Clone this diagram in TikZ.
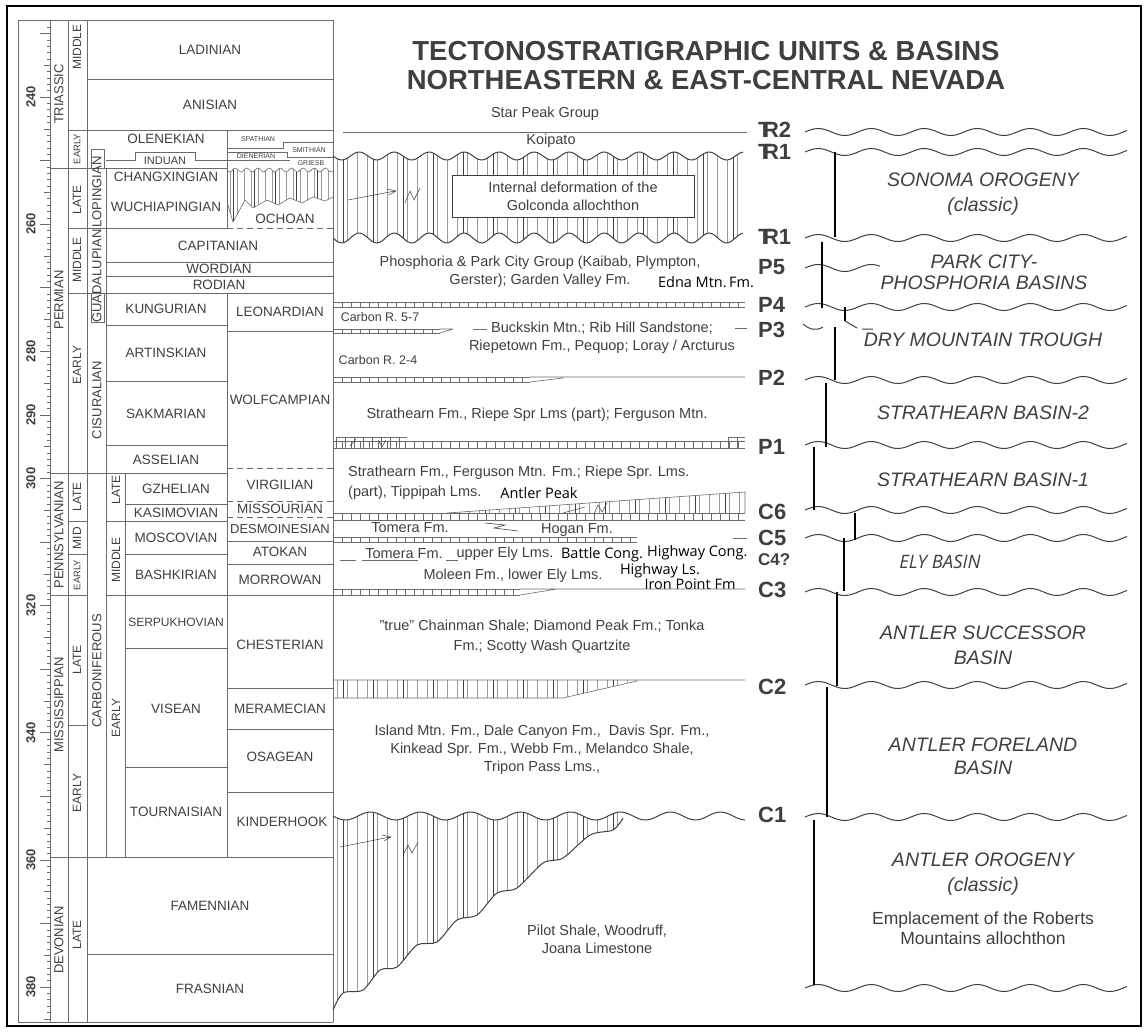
\documentclass[tikz,border=0pt]{standalone}
\usepackage{fontspec}
\setmainfont{Liberation Sans}
\newfontfamily\altfont{Open Sans}
\usetikzlibrary{calc}
\definecolor{ink}{HTML}{3F3F3F}
\definecolor{rule}{HTML}{6A6A6A}
\definecolor{hatchc}{HTML}{9A9A9A}
\newcommand{\fsz}[2]{\fontsize{#1}{#2}\selectfont}
\newcommand{\Tr}{T\kern-0.39em R}
\newcommand{\maY}[1]{97+(#1-240)*6.357}
% thin band with ticks: x1, x2, ytop, ybot
\newcommand{\tickband}[4]{%
  \draw[band] (#1,#3) -- (#2,#3) (#1,#4) -- (#2,#4);
  \pgfmathtruncatemacro\tbn{(#2-#1)/9}
  \foreach \i in {0,...,\tbn} \draw[band] ({#1+9*\i},#3) -- ({#1+9*\i},#4);
}
% wavy unconformity on the right: y, x1, x2
\newcommand{\rwave}[3]{\draw[wave] plot[domain=#2:#3, samples=110] (\x,{#1-3.5*sin((\x-805)*6.79)});}

\begin{document}
\begin{tikzpicture}[x=1pt, y=-1pt,
  stg/.style={text=ink, font=\fsz{13.5}{15}, inner sep=0pt},
  per/.style={text=ink, font=\fsz{13}{13}, rotate=90, inner sep=0pt},
  epo/.style={text=ink, font=\fsz{12}{12}, rotate=90, inner sep=0pt},
  rnum/.style={text=ink, font=\bfseries\fsz{13}{13}, rotate=90, inner sep=0pt},
  tiny/.style={text=ink, font=\fsz{7}{7}, inner sep=0pt},
  fm/.style={text=ink, font=\fsz{14.5}{18}, align=center, inner sep=0pt},
  fmalt/.style={text=black, font=\altfont\fsz{14.5}{16}, inner sep=0pt},
  unc/.style={text=ink, font=\bfseries\fsz{22}{22}, anchor=west, inner sep=0pt},
  basin/.style={text=ink, font=\itshape\fsz{19.5}{25}, align=center, inner sep=0pt},
  tline/.style={draw=rule, line width=0.8pt},
  tdash/.style={tline, dash pattern=on 6pt off 4pt},
  band/.style={draw=rule, line width=0.6pt},
  hatch/.style={draw=hatchc, line width=0.4pt},
  hatchd/.style={draw=ink, line width=0.7pt},
  wave/.style={draw=ink, line width=1pt},
  dur/.style={draw=black, line width=2.6pt}
]
\useasboundingbox (0,0) rectangle (1148,1031);
\draw[line width=2pt] (7,6) rectangle (1141,1026);

% time scale frame
\draw[tline] (18,20) -- (333,20) (18,1022) -- (333,1022);
\foreach \x in {18,50,68,87,333} \draw[tline] (\x,20) -- (\x,1022);
\draw[tline] (106,168) -- (106,857);
\draw[tline] (125,473) -- (125,857);
\draw[tline] (227,130) -- (227,228) (227,293) -- (227,857);

% ruler
\foreach \m in {228,...,385}{
  \pgfmathsetmacro\tl{mod(\m,10)==0 ? 10 : (mod(\m,5)==0 ? 6.5 : 3.5)}
  \draw[rule, line width=0.5pt] (50,{\maY{\m}}) -- ++(-\tl,0);
}
\foreach \m in {240,260,280,290,300,320,340,360,380}
  \node[rnum] (ma\m) at (31,{\maY{\m}}) {\m};

% triassic
\draw[tline] (87,79) -- (333,79) (68,130) -- (333,130) (50,168) -- (227,168);
\draw[tline] (106,160) -- (135,160) -- (135,152) -- (195,152) -- (195,160) -- (227,160);
\draw[tline] (91,168) -- (91,149) -- (104,149) -- (104,168);
\draw[band] (227,148) -- (283,148) -- (283,142) -- (333,142);
\draw[band] (227,152) -- (287,152) -- (287,157) -- (333,157);
\draw[band] (227,160) -- (290,160);
% permian
\draw[tline] (68,228) -- (227,228);
\draw[tdash] (227,228) -- (333,228);
\draw[tline] (106,262) -- (333,262) (106,276) -- (333,276) (68,293) -- (333,293);
\draw[tline] (91,293) -- (91,322) -- (104,322) -- (104,293);
\draw[tline] (106,325) -- (227,325) (227,331) -- (333,331);
\draw[tline] (106,381) -- (227,381) (106,445) -- (227,445) (50,473) -- (227,473);
\draw[tdash] (227,468) -- (333,468);
% carboniferous and devonian
\draw[tline] (125,504) -- (227,504);
\draw[tdash] (227,501) -- (333,501) (227,517) -- (333,517);
\draw[tline] (68,521) -- (87,521) (106,521) -- (227,521);
\draw[tline] (227,541) -- (333,541) (227,564) -- (333,564);
\draw[tline] (68,554) -- (87,554) (125,554) -- (227,554);
\draw[tline] (50,595) -- (87,595) (106,595) -- (333,595);
\draw[tline] (125,648) -- (227,648) (227,688) -- (333,688) (227,729) -- (333,729);
\draw[tline] (68,725) -- (87,725);
\draw[tline] (125,767) -- (227,767) (227,792) -- (333,792);
\draw[tline] (50,857) -- (333,857) (87,954) -- (333,954);

% ochoan gap
\begin{scope}
  \clip plot[domain=227:333, samples=60] (\x,{170+2*sin((\x-227)*32)}) -- (333,197) -- (325,201) -- (313,197) -- (302,203) -- (290,198) -- (278,205) -- (267,200) -- (253,208) -- (245,200) -- (238,213) -- (233,222) -- (228,205) -- cycle;
  \foreach \x in {230,237,...,333} \draw[hatch] (\x,160) -- (\x,230);
  \foreach \x in {233,254,...,333} \draw[hatchd] (\x,160) -- (\x,230);
\end{scope}
\draw[band] plot[domain=227:333, samples=60] (\x,{170+2*sin((\x-227)*32)});
\draw[band] (228,205) -- (233,222) -- (238,213) -- (245,200) -- (253,208) -- (267,200) -- (278,205) -- (290,198) -- (302,203) -- (313,197) -- (325,201) -- (333,197);

% stage names
\node[stg] (lad) at (210,50) {LADINIAN};
\node[stg] (ani) at (210,105) {ANISIAN};
\node[stg] (ole) at (166,139) {OLENEKIAN};
\node[stg, font=\fsz{11}{11}] (ind) at (165,161) {INDUAN};
\node[tiny] (spa) at (258,139) {SPATHIAN};
\node[tiny] (smi) at (309,150) {SMITHIAN};
\node[tiny] (die) at (256,156) {DIENERIAN};
\node[tiny] (gri) at (311,163) {GRIESB};
\node[stg] (chx) at (166,177) {CHANGXINGIAN};
\node[stg] (wuc) at (166,207) {WUCHIAPINGIAN};
\node[stg] (och) at (285,219) {OCHOAN};
\node[stg] (cap) at (218,246) {CAPITANIAN};
\node[stg] (wor) at (219,269) {WORDIAN};
\node[stg] (rod) at (219,285) {RODIAN};
\node[stg] (kun) at (166,309) {KUNGURIAN};
\node[stg] (leo) at (280,312) {LEONARDIAN};
\node[stg] (art) at (166,353) {ARTINSKIAN};
\node[stg] (wol) at (280,400) {WOLFCAMPIAN};
\node[stg] (sak) at (166,414) {SAKMARIAN};
\node[stg] (ass) at (166,460) {ASSELIAN};
\node[stg] (gzh) at (176,489) {GZHELIAN};
\node[stg] (vir) at (280,485) {VIRGILIAN};
\node[stg] (kas) at (176,513) {KASIMOVIAN};
\node[stg] (mis) at (280,509) {MISSOURIAN};
\node[stg, font=\fsz{13}{13}] (des) at (280,529) {DESMOINESIAN};
\node[stg] (mos) at (176,538) {MOSCOVIAN};
\node[stg] (ato) at (280,552) {ATOKAN};
\node[stg] (bas) at (176,575) {BASHKIRIAN};
\node[stg] (mor) at (280,580) {MORROWAN};
\node[stg, font=\fsz{12}{12}] (ser) at (176,622) {SERPUKHOVIAN};
\node[stg] (che) at (280,645) {CHESTERIAN};
\node[stg] (vis) at (176,709) {VISEAN};
\node[stg] (mer) at (280,709) {MERAMECIAN};
\node[stg] (osa) at (280,757) {OSAGEAN};
\node[stg] (tou) at (176,812) {TOURNAISIAN};
\node[stg] (kin) at (282,822) {KINDERHOOK};
\node[stg] (fam) at (210,906) {FAMENNIAN};
\node[stg] (fra) at (210,989) {FRASNIAN};

% periods, epochs, series
\node[per] (tri) at (59,94) {TRIASSIC};
\node[per] (prm) at (59,300) {PERMIAN};
\node[per] (pen) at (59,535) {PENNSYLVANIAN};
\node[per] (mss) at (59,705) {MISSISSIPPIAN};
\node[per] (dev) at (59,940) {DEVONIAN};
\node[epo] (trm) at (77,47) {MIDDLE};
\node[epo, font=\fsz{9.5}{9.5}] (tre) at (77,149) {EARLY};
\node[epo] (pml) at (77,200) {LATE};
\node[epo] (pmm) at (77,260) {MIDDLE};
\node[epo] (pme) at (77,365) {EARLY};
\node[epo] (pnl) at (77,497) {LATE};
\node[epo] (pnm) at (77,538) {MID};
\node[epo, font=\fsz{9.5}{9.5}] (pne) at (77,575) {EARLY};
\node[epo] (msl) at (77,660) {LATE};
\node[epo] (mse) at (77,793) {EARLY};
\node[epo] (dvl) at (77,935) {LATE};
\node[per] (lop) at (97,192) {LOPINGIAN};
\node[per] (gua) at (97,276) {GUADALUPIAN};
\node[per] (cis) at (97,400) {CISURALIAN};
\node[per] (crb) at (97,671) {CARBONIFEROUS};
\node[epo] (sbl) at (116,490) {LATE};
\node[epo] (sbm) at (116,560) {MIDDLE};
\node[epo] (sbe) at (116,718) {EARLY};

% title
\node[text=ink, font=\bfseries\fsz{27.5}{30}] (title1) at (706,51) {TECTONOSTRATIGRAPHIC UNITS \& BASINS};
\node[text=ink, font=\bfseries\fsz{27.5}{30}] (title2) at (706,80) {NORTHEASTERN \& EAST-CENTRAL NEVADA};

% triassic units
\node[fm] (starpk) at (545,114) {Star Peak Group};
\draw[band] (343,132) -- (747,132);
\node[fm] (koip) at (551,141) {Koipato};

% golconda deformation
\begin{scope}
  \clip plot[domain=333:743, samples=150] (\x,{156+4*sin((\x-333)*10.29)}) -- plot[domain=743:333, samples=150] (\x,{238+5*sin((\x-333)*10.29)}) -- cycle;
  \foreach \x in {337,347,...,743} \draw[hatch] (\x,140) -- (\x,250);
  \foreach \x in {343,373,...,743} \draw[hatchd] (\x,140) -- (\x,250);
\end{scope}
\draw[wave] plot[domain=333:743, samples=150] (\x,{156+4*sin((\x-333)*10.29)});
\draw[wave] plot[domain=333:743, samples=150] (\x,{238+5*sin((\x-333)*10.29)});
\draw[hatchd, line width=0.5pt] (348,200) -- (395,191) (387,189) -- (396,191) -- (389,195);
\draw[hatchd, line width=0.5pt] (405,203) -- (410,191) -- (414,200) -- (420,188);
\node[fm, draw=ink, line width=0.6pt, fill=white, minimum width=242pt, minimum height=42pt] (golc) at (573,196) {Internal deformation of the\\Golconda allochthon};

% permian units
\node[fm] (phos) at (540,272) {Phosphoria \& Park City Group (Kaibab, Plympton,\\Gerster); Garden Valley Fm.};
\node[fmalt] (edna) at (706,282) {Edna Mtn.\,Fm.};
\tickband{333}{745}{302}{307}
\node[fm, font=\fsz{12.5}{14}] (carb57) at (380,317) {Carbon R. 5-7};
\tickband{333}{440}{329}{333}
\draw[band] (440,333) -- (453,329) (440,329) -- (453,329);
\draw[band] (473,329) -- (487,329) (735,328) -- (747,328);
\node[fm] (buck) at (602,338) {Buckskin Mtn.; Rib Hill Sandstone;\\Riepetown Fm., Pequop; Loray / Arcturus};
\node[fm, font=\fsz{12.5}{14}] (carb24) at (378,360) {Carbon R. 2-4};
\tickband{333}{530}{377}{382}
\draw[band] (530,382) -- (563,378) (530,377) -- (745,377);
\node[fm] (str2) at (537,415) {Strathearn Fm., Riepe Spr Lms (part); Ferguson Mtn.};
\tickband{333}{745}{441}{448}
\tickband{336}{407}{437}{448}
\tickband{728}{745}{437}{448}
\draw[hatchd, line width=0.5pt] (350,446) -- (356,439) (378,440) -- (382,447) -- (386,440);

% carboniferous units
\node[fm, anchor=west, align=left, font=\fsz{14.5}{20}] (str1) at (348,483) {Strathearn Fm., Ferguson Mtn. Fm.; Riepe Spr. Lms.\\(part), Tippipah Lms.};
\node[fmalt] (apk) at (539,493) {Antler Peak};
\begin{scope}
  \clip (447,513) -- (745,492) -- (745,513) -- cycle;
  \foreach \x in {449,459,...,745} \draw[hatch] (\x,488) -- (\x,514);
  \foreach \x in {455,485,...,745} \draw[hatchd] (\x,488) -- (\x,514);
\end{scope}
\draw[band] (447,513) -- (745,492) -- (745,513);
\tickband{333}{745}{513}{520}
\draw[hatchd, line width=0.5pt] (563,513) -- (585,507) (594,514) -- (598,505) -- (602,512) -- (607,503);
\node[fm] (tom1) at (410,528) {Tomera Fm.};
\draw[hatchd, line width=0.6pt] (485,523) -- (505,525) -- (494,528) -- (518,531);
\node[fm] (hog) at (577,530) {Hogan Fm.};
\tickband{333}{637}{537}{542}
\draw[band] (733,538) -- (747,538);
\draw[band] (340,560) -- (356,560) (362,560) -- (418,560) (446,560) -- (458,560);
\node[fm] (tom2) at (404,554) {Tomera Fm.};
\node[fm] (uel) at (505,554) {upper Ely Lms.};
\node[fmalt] (btc) at (602,555) {Battle Cong.};
\node[fmalt, anchor=west] (hwc) at (647,553) {Highway Cong.};
\node[fm] (mol) at (513,576) {Moleen Fm., lower Ely Lms.};
\node[fmalt] (hwl) at (660,571) {Highway Ls.};
\node[fmalt] (ipf) at (690,584) {Iron Point Fm};
\tickband{333}{520}{589}{595}
\draw[band] (520,595) -- (557,589) (520,589) -- (745,589);
\node[fm, font=\fsz{14.5}{20}] (chai) at (542,637) {"true" Chainman Shale; Diamond Peak Fm.; Tonka\\Fm.; Scotty Wash Quartzite};
\begin{scope}
  \clip (333,680) -- (637,680) -- (563,698) -- (333,698) -- cycle;
  \foreach \x in {337,347,...,637} \draw[hatch] (\x,678) -- (\x,700);
  \foreach \x in {343,373,...,637} \draw[hatchd] (\x,678) -- (\x,700);
\end{scope}
\draw[band] (333,680) -- (745,680) (333,698) -- (563,698) -- (637,681);
\node[fm] (isl) at (542,750) {Island Mtn. Fm., Dale Canyon Fm.,\ \ Davis Spr. Fm.,\\Kinkead Spr. Fm., Webb Fm., Melandco Shale,\\Tripon Pass Lms.,};

% antler orogeny
\begin{scope}
  \clip plot[domain=333:623, samples=100] (\x,{816+4*sin((\x-333)*7.2)}) -- plot[smooth] coordinates {(623,818) (613,830) (590,835) (563,858) (543,863) (517,888) (497,893) (477,915) (457,920) (437,942) (417,945) (397,967) (380,970) (363,990) (343,993) (333,1010)} -- cycle;
  \foreach \x in {337,347,...,623} \draw[hatch] (\x,805) -- (\x,1015);
  \foreach \x in {343,373,...,623} \draw[hatchd] (\x,805) -- (\x,1015);
\end{scope}
\draw[wave] plot[domain=333:745, samples=140] (\x,{816+4*sin((\x-333)*7.2)});
\draw[wave] plot[smooth] coordinates {(623,818) (613,830) (590,835) (563,858) (543,863) (517,888) (497,893) (477,915) (457,920) (437,942) (417,945) (397,967) (380,970) (363,990) (343,993) (333,1010)};
\draw[hatchd, line width=0.5pt] (340,847) -- (390,837) (382,835) -- (391,837) -- (384,841);
\draw[hatchd, line width=0.5pt] (403,855) -- (408,845) -- (412,853) -- (418,842);
\node[fm, font=\fsz{14.5}{18}] (pil) at (597,939) {Pilot Shale, Woodruff,\\Joana Limestone};

% unconformity labels
\node[unc] (u1) at (758,130) {\Tr2};
\node[unc] (u2) at (758,152) {\Tr1};
\node[unc] (u3) at (758,237) {\Tr1};
\node[unc] (u4) at (758,267) {P5};
\node[unc] (u5) at (758,305) {P4};
\node[unc] (u6) at (758,330) {P3};
\node[unc] (u7) at (758,378) {P2};
\node[unc] (u8) at (758,447) {P1};
\node[unc] (u9) at (758,512) {C6};
\node[unc] (u10) at (758,538) {C5};
\node[unc, font=\bfseries\fsz{17}{17}] (u11) at (758,560) {C4?};
\node[unc] (u12) at (758,590) {C3};
\node[unc] (u13) at (758,687) {C2};
\node[unc] (u14) at (758,815) {C1};

% right column
\rwave{132}{805}{1127}
\rwave{152}{805}{1127}
\rwave{238}{805}{1127}
\rwave{268}{805}{880}
\rwave{307}{805}{1127}
\draw[wave] (803,324) .. controls (810,330) and (816,331) .. (823,327);
\rwave{380}{805}{1127}
\rwave{445}{805}{1127}
\rwave{510}{805}{1127}
\rwave{538}{805}{1127}
\rwave{592}{805}{1127}
\rwave{685}{805}{1127}
\rwave{817}{805}{1127}
\rwave{988}{805}{1127}
\draw[dur] (835,152) -- (835,237);
\draw[dur] (822,242) -- (822,308);
\draw[dur] (845,307) -- (845,321);
\draw[wave] (845,321) -- (857,328) (862,329) -- (873,329);
\draw[dur] (835,327) -- (835,380);
\draw[dur] (826,383) -- (826,447);
\draw[dur] (814,447) -- (814,510);
\draw[dur] (855,513) -- (855,540);
\draw[dur] (844,538) -- (844,591);
\draw[dur] (837,592) -- (837,686);
\draw[dur] (827,687) -- (827,817);
\draw[dur] (814,820) -- (814,985);

\node[basin] (sonoma) at (983,194) {SONOMA OROGENY\\(classic)};
\node[basin, font=\itshape\fsz{19.5}{21}] (park) at (984,272) {PARK CITY-\\PHOSPHORIA BASINS};
\node[basin] (drymt) at (983,340) {DRY MOUNTAIN TROUGH};
\node[basin] (strb2) at (983,413) {STRATHEARN BASIN-2};
\node[basin] (strb1) at (983,480) {STRATHEARN BASIN-1};
\node[basin, font=\altfont\itshape\fsz{18.5}{20}] (ely) at (940,562) {ELY BASIN};
\node[basin] (succ) at (983,645) {ANTLER SUCCESSOR\\BASIN};
\node[basin, font=\itshape\fsz{19.5}{23}] (fore) at (983,756) {ANTLER FORELAND\\BASIN};
\node[basin] (orog) at (983,874) {ANTLER OROGENY\\(classic)};
\node[fm, font=\fsz{17.5}{20}] (empl) at (983,928) {Emplacement of the Roberts\\Mountains allochthon};
\end{tikzpicture}
\end{document}
